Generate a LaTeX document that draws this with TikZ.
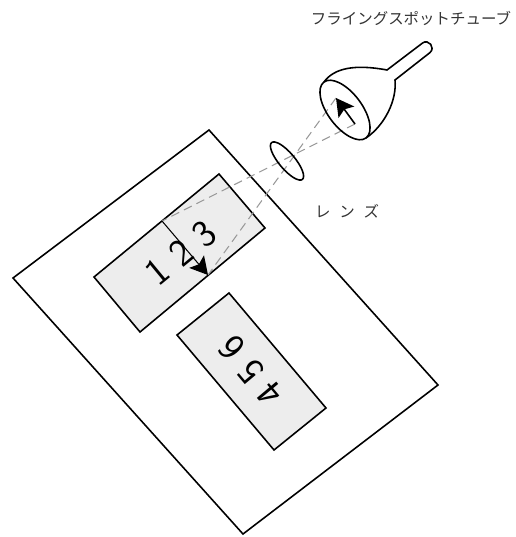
\documentclass[tikz,border=0pt]{standalone}
\usepackage{fontspec}
\newfontfamily\jpfont{Noto Sans CJK JP}
\usetikzlibrary{arrows.meta}

\begin{document}
\begin{tikzpicture}[x=0.02cm, y=-0.02cm,
		panel/.style = {fill=black!7, draw = black, line width=0.9pt},
		ray/.style = {black!40, dash pattern=on 5pt off 3pt, line width=0.6pt},
		digit/.style = {font=\fontsize{22pt}{22pt}\selectfont\sffamily, inner sep=0pt},
		jptext/.style = {font=\jpfont\fontsize{8.8pt}{10pt}\selectfont, text=black!80}]
		\useasboundingbox (0,0) rectangle (516,537);
		
		\draw [line width=0.9pt] (13,278) -- (209,130) -- (438,385) -- (243,534) -- cycle;
		
		\draw [panel] (94,277) -- (219,174) -- (265,228) -- (140,332) -- cycle;
		\draw [panel] (177,335) -- (229,293) -- (326,408) -- (274,450) -- cycle;
		
		\node (d1) [digit, rotate=39.5] at (157,272) {1};
		\node (d2) [digit, rotate=39.5] at (181,253) {2};
		\node (d3) [digit, rotate=39.5] at (204,234) {3};
		\node (d4) [digit, rotate=130] at (270,394) {4};
		\node (d5) [digit, rotate=130] at (251,371) {5};
		\node (d6) [digit, rotate=130] at (232,348) {6};
		
		\coordinate (tip) at (336,98);
		\coordinate (tail) at (355,124);
		\coordinate (imgtip) at (208,275);
		\coordinate (imgtail) at (162,221);
		
		\draw [ray] (tip) -- (imgtip);
		\draw [ray] (tail) -- (imgtail);
		
		\draw [-{Stealth[length=10pt, width=11pt, inset=2pt]}, line width=0.6pt] (imgtail) -- (imgtip);
		
		\draw [line width=0.9pt, rotate around={-50:(287,161)}] (287,161) ellipse [x radius=24, y radius=8];
		
		\draw [line width=0.9pt] (324,82) .. controls (334,68) and (355,64) .. (387,70)
			-- (422.3,43.2) .. controls (428.6,38.3) and (436.0,47.9) .. (429.7,52.8)
			-- (395,80) .. controls (397,100) and (385,125) .. (366,138);
		\draw [line width=0.9pt, rotate around={-53:(345,110)}] (345,110) ellipse [x radius=35, y radius=17];
		\draw [-{Stealth[length=10pt, width=11pt, inset=2pt]}, line width=0.9pt] (tail) -- (tip);
		
		\node (tube) [jptext] at (411,18) {フライングスポットチューブ};
		\node (lens) [jptext] at (347,211) {レ\hspace{5pt}ン\hspace{5pt}ズ};
		
		\end{tikzpicture}
\end{document}
